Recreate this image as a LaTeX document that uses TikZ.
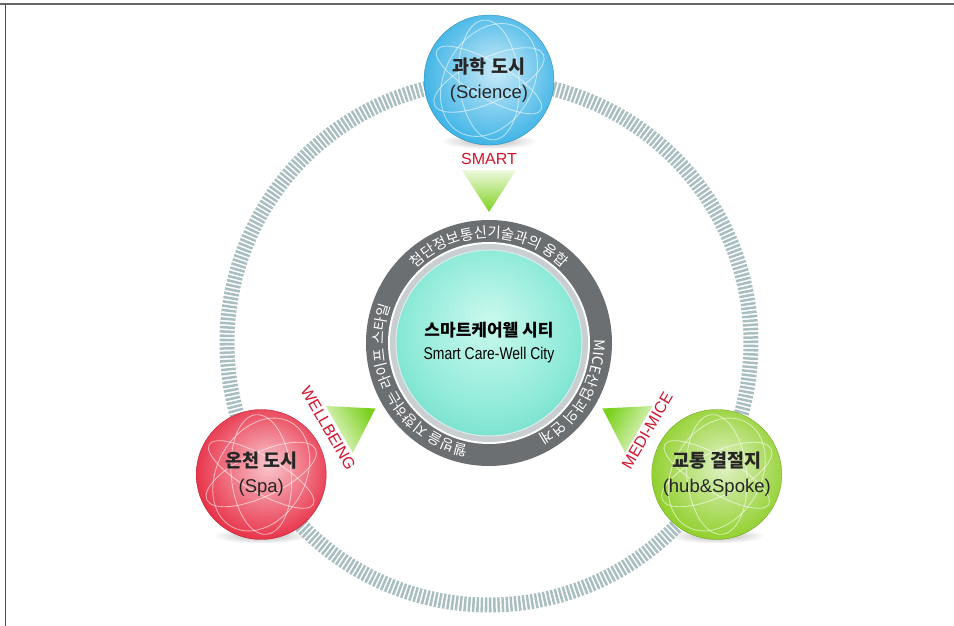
\documentclass[tikz,border=0pt]{standalone}
\usepackage{fontspec}
\setmainfont{Liberation Sans}
\newfontfamily\kr{Noto Sans CJK KR}
\newfontfamily\narrow[FakeStretch=0.82]{Liberation Sans}
\usetikzlibrary{decorations.text}

\definecolor{trackgray}{HTML}{A9BEC1}
\definecolor{dialgray}{HTML}{6B6F71}
\definecolor{rimgray}{HTML}{C9CFD0}
\definecolor{sciblue}{HTML}{2FAEE4}
\definecolor{spared}{HTML}{E6223A}
\definecolor{hubgreen}{HTML}{88CC1C}
\definecolor{tagred}{HTML}{D0142C}
\definecolor{leafpale}{HTML}{EEF9DD}
\definecolor{leafgreen}{HTML}{7CD11E}
\definecolor{coreinner}{HTML}{CBF9EE}
\definecolor{coremid}{HTML}{8EEAD8}
\definecolor{coreouter}{HTML}{40C9B3}

% ball look for the three city spheres, recoloured through sphcol
\pgfdeclareradialshading[sphcol]{sphereshade}{\pgfpoint{3bp}{4bp}}{%
  color(0bp)=(sphcol!25!white); color(12bp)=(sphcol!55!white);
  color(30bp)=(sphcol); color(50bp)=(sphcol!90!black)}
\pgfdeclareradialshading{coreshade}{\pgfpoint{0bp}{6bp}}{%
  color(0bp)=(coreinner); color(22bp)=(coremid);
  color(46bp)=(coreouter); color(50bp)=(coreouter)}

\begin{document}
\begin{tikzpicture}[x=1pt, y=1pt,
    every node/.style={inner sep=0pt},
    track/.style={draw=trackgray, line width=15pt, dash pattern=on 2.5pt off 1.7pt},
    orbit/.style={white, opacity=.55, line width=.9pt},
    sphere/.style={circle, minimum size=130pt, /utils/exec={\colorlet{sphcol}{#1}},
        shade, shading=sphereshade, draw=#1!75!black, line width=.3pt},
    caption/.style={align=center, text=black!85, font=\fontsize{18.5}{25}\selectfont},
    pointer/.style={top color=leafpale, bottom color=leafgreen},
    tag/.style={text=tagred, font=\fontsize{16}{16}\selectfont},
    ringtext/.style={decorate, decoration={text along path, text align=center,
        text={|\kr\fontsize{14.5}{14.5}\selectfont\color{white}|#1}}}]
  \useasboundingbox (-489,343) rectangle (465,-283);

  % frame
  \draw[black!60, line width=1.6pt] (-489,339) -- (465,339);
  \draw[black!70, line width=.8pt] (-484,339) -- (-484,-283);

  % shadows under the spheres
  \foreach \a in {90,210,330}
    \shade[inner color=black!30, outer color=white] ([shift={(0,-61)}]\a:263) ellipse (48 and 8);

  \draw[track] (0,0) circle (262);

  % pointers toward the hub
  \foreach \a/\s in {90/0, 210/120, 330/-120}
    \shade[pointer, shading angle=\s] (\a:131) -- ({\a+8.9}:175) -- ({\a-8.9}:175) -- cycle;

  \node[tag] (smart) at (90:184) {SMART};
  \node[tag, rotate=-60] (wellbeing) at (208:182) {WELLBEING};
  \node[tag, rotate=60] (medimice) at (331:181) {MEDI-MICE};

  % hub dial
  \node[circle, fill=dialgray, minimum size=246pt] (dial) at (0,0) {};
  \fill[white] (dial.center) circle (101);
  \fill[rimgray] (dial.center) circle (99);
  \node[circle, minimum size=186pt, shade, shading=coreshade, draw=white!85!teal, line width=1pt,
        align=center, font=\fontsize{17}{23}\selectfont] (hub) at (0,0)
        {{\kr\bfseries 스마트케어웰 시티}\\{\narrow Smart Care-Well City}};

  \path[ringtext={첨단정보통신기술과의 융합}] (150:105) arc[start angle=150, end angle=30, radius=105];
  \path[ringtext={MICE산업과의 연계}] (25:105) arc[start angle=25, end angle=-85, radius=105];
  \path[ringtext={웰빙을 지향하는 라이프 스타일}] (-86:105) arc[start angle=-86, end angle=-216, radius=105];

  % city spheres
  \node[sphere=sciblue] (science) at (90:263) {};
  \node[sphere=spared] (spa) at (210:263) {};
  \node[sphere=hubgreen] (transit) at (330:263) {};

  % light orbits on the spheres
  \foreach \n in {science,spa,transit}{
    \begin{scope}
      \clip (\n.center) circle (64.5);
      \foreach \r/\h in {25/22, 95/30, 150/18, 60/44}
        \draw[orbit, rotate around={\r:(\n.center)}] (\n.center) ellipse (60 and \h);
    \end{scope}}

  \node[caption] (science text) at (science) {{\kr\bfseries 과학 도시}\\(Science)};
  \node[caption] (spa text) at (spa) {{\kr\bfseries 온천 도시}\\(Spa)};
  \node[caption] (transit text) at (transit) {{\kr\bfseries 교통 결절지}\\(hub\&Spoke)};
\end{tikzpicture}
\end{document}
